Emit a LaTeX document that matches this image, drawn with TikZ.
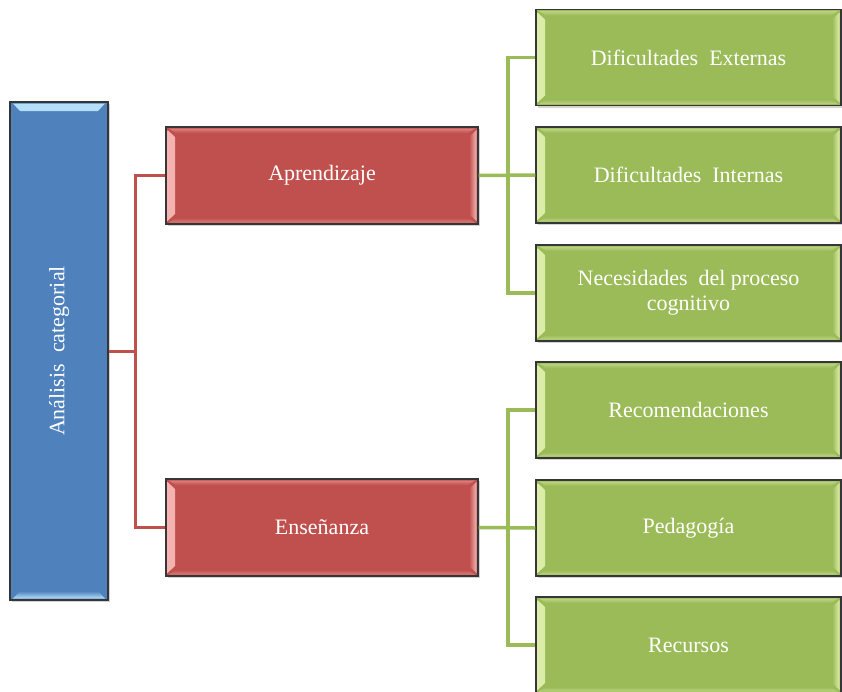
\documentclass[tikz,border=0pt]{standalone}
\usepackage{fontspec}
\setmainfont{Liberation Serif}
\usetikzlibrary{shadows,calc}
\definecolor{bbase}{HTML}{4F81BD}
\definecolor{bhl}{HTML}{B4E0FA}
\definecolor{rbase}{HTML}{C0504D}
\definecolor{rhl}{HTML}{F5B4B2}
\definecolor{gbase}{HTML}{9BBB59}
\definecolor{ghl}{HTML}{DCEEAA}
\definecolor{edge}{HTML}{363636}
\tikzset{
  bevelh/.style 2 args={path picture={
    \shade[left color=#1, right color=#2]
      ([shift={(1.5pt,-3pt)}]path picture bounding box.north west) --
      ([shift={(9pt,-10pt)}]path picture bounding box.north west) --
      ([shift={(9pt,10pt)}]path picture bounding box.south west) --
      ([shift={(1.5pt,3pt)}]path picture bounding box.south west) -- cycle;
    \shade[left color=#2, right color=#1]
      ([shift={(-1.5pt,-3pt)}]path picture bounding box.north east) --
      ([shift={(-9pt,-10pt)}]path picture bounding box.north east) --
      ([shift={(-9pt,10pt)}]path picture bounding box.south east) --
      ([shift={(-1.5pt,3pt)}]path picture bounding box.south east) -- cycle;
    \shade[top color=#1, bottom color=#2, opacity=0.5]
      ([shift={(3pt,-1.5pt)}]path picture bounding box.north west) --
      ([shift={(-3pt,-1.5pt)}]path picture bounding box.north east) --
      ([shift={(-10pt,-6pt)}]path picture bounding box.north east) --
      ([shift={(10pt,-6pt)}]path picture bounding box.north west) -- cycle;
    \shade[top color=#2, bottom color=#1, opacity=0.5]
      ([shift={(3pt,1.5pt)}]path picture bounding box.south west) --
      ([shift={(-3pt,1.5pt)}]path picture bounding box.south east) --
      ([shift={(-10pt,6pt)}]path picture bounding box.south east) --
      ([shift={(10pt,6pt)}]path picture bounding box.south west) -- cycle;
  }},
  bevelv/.style 2 args={path picture={
    \shade[top color=#1, bottom color=#2]
      ([shift={(3pt,-1.5pt)}]path picture bounding box.north west) --
      ([shift={(-3pt,-1.5pt)}]path picture bounding box.north east) --
      ([shift={(-10pt,-9pt)}]path picture bounding box.north east) --
      ([shift={(10pt,-9pt)}]path picture bounding box.north west) -- cycle;
    \shade[top color=#2, bottom color=#1]
      ([shift={(3pt,1.5pt)}]path picture bounding box.south west) --
      ([shift={(-3pt,1.5pt)}]path picture bounding box.south east) --
      ([shift={(-10pt,9pt)}]path picture bounding box.south east) --
      ([shift={(10pt,9pt)}]path picture bounding box.south west) -- cycle;
  }},
  boxbase/.style={draw=edge, line width=1.1pt, inner sep=0pt, text=white,
    font=\fontsize{22}{25}\selectfont, align=center,
    drop shadow={shadow xshift=1.5pt, shadow yshift=-2pt, opacity=0.35}},
  boxblue/.style={boxbase, fill=bbase, minimum width=98pt, minimum height=498pt, bevelv={bhl}{bbase}},
  boxred/.style={boxbase, fill=rbase, minimum width=312pt, minimum height=97pt, bevelh={rhl}{rbase}},
  boxgreen/.style={boxbase, fill=gbase, minimum width=305pt, minimum height=96pt, bevelh={ghl}{gbase}},
  redline/.style={draw=rbase, line width=3pt},
  greenline/.style={draw=gbase, line width=3.5pt},
}
\begin{document}
\begin{tikzpicture}[x=1pt,y=-1pt]
\useasboundingbox (0,0) rectangle (842,691);
\coordinate (rj) at (135,351);
\coordinate (gja) at (508,175);
\coordinate (gjb) at (508,528);
\node[boxblue] (blue) at (59,351) {};
\node[boxred] (apr) at (322,175.5) {Aprendizaje};
\node[boxred] (ens) at (322,527.5) {Enseñanza};
\node[boxgreen] (g1) at (688.5,57.5) {Dificultades\ \ Externas};
\node[boxgreen] (g2) at (688.5,175) {Dificultades\ \ Internas};
\node[boxgreen] (g3) at (688.5,293) {Necesidades\ \ del proceso\\cognitivo};
\node[boxgreen] (g4) at (688.5,410) {Recomendaciones};
\node[boxgreen] (g5) at (688.5,528) {Pedagogía};
\node[boxgreen] (g6) at (688.5,645) {Recursos};
\node[text=white, font=\fontsize{22}{25}\selectfont, rotate=90] (bluetext) at (blue.center) {Análisis\ \ categorial};
\draw[redline] (blue.east) -- (rj);
\draw[redline] (apr.west) -| (rj) |- (ens.west);
\draw[greenline] (apr.east) -- (g2.west);
\draw[greenline] (g1.west) -| (gja) |- (g3.west);
\draw[greenline] (ens.east) -- (g5.west);
\draw[greenline] (g4.west) -| (gjb) |- (g6.west);
\end{tikzpicture}
\end{document}
